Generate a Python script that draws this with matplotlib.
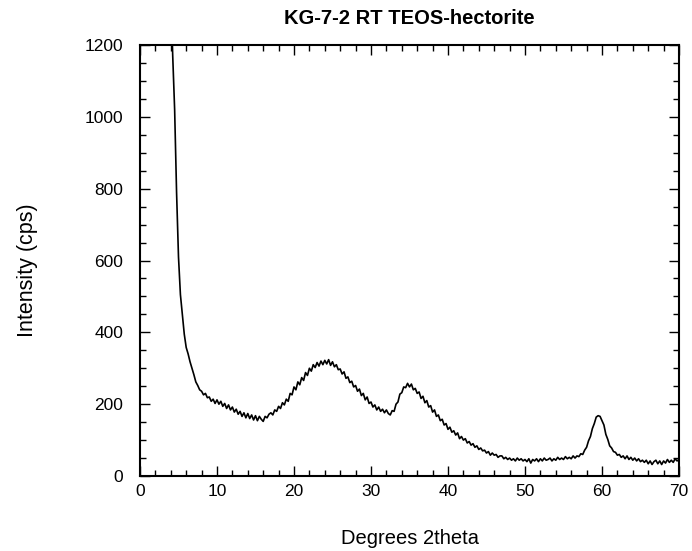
import matplotlib
matplotlib.use("Agg")
import matplotlib.pyplot as plt
import numpy as np
from matplotlib.ticker import MultipleLocator

plt.rcParams['font.family'] = ['Liberation Sans', 'DejaVu Sans']

title = "KG-7-2 RT TEOS-hectorite"
x_label = "Degrees 2theta"
y_label = "Intensity (cps)"

# scan starts at 3.0 deg, 0.25 deg step; one row per degree
start_deg = 3.0
step_deg = 0.25
intensity = [
    2000, 1850, 1700, 1500,   # 3
    1350, 1170, 1020, 790,    # 4
    610, 505, 450, 395,       # 5
    358, 340, 318, 300,       # 6
    282, 262, 252, 240,       # 7
    236, 226, 230, 218,       # 8
    220, 208, 214, 202,       # 9
    212, 200, 208, 194,       # 10
    202, 188, 198, 184,       # 11
    192, 178, 186, 172,       # 12
    180, 166, 176, 162,       # 13
    174, 160, 170, 156,       # 14
    168, 154, 166, 158,       # 15
    152, 166, 162, 172,       # 16
    176, 170, 184, 180,       # 17
    194, 188, 204, 198,       # 18
    214, 208, 230, 226,       # 19
    248, 240, 262, 254,       # 20
    274, 266, 288, 280,       # 21
    300, 292, 310, 302,       # 22
    316, 306, 320, 310,       # 23
    322, 312, 324, 308,       # 24
    318, 304, 310, 296,       # 25
    298, 284, 290, 272,       # 26
    276, 260, 264, 248,       # 27
    252, 236, 242, 224,       # 28
    230, 212, 220, 202,       # 29
    206, 192, 198, 184,       # 30
    192, 180, 186, 176,       # 31
    184, 174, 170, 182,       # 32
    180, 200, 206, 228,       # 33
    232, 248, 246, 258,       # 34
    248, 256, 240, 244,       # 35
    230, 234, 216, 222,       # 36
    204, 210, 192, 196,       # 37
    178, 184, 166, 170,       # 38
    154, 158, 142, 146,       # 39
    130, 136, 122, 126,       # 40
    114, 120, 104, 110,       # 41
    100, 104, 92, 96,         # 42
    86, 90, 80, 84,           # 43
    74, 78, 70, 72,           # 44
    64, 68, 58, 64,           # 45
    58, 60, 52, 56,           # 46
    56, 48, 52, 46,           # 47
    50, 44, 48, 42,           # 48
    50, 44, 48, 42,           # 49
    46, 40, 48, 36,           # 50
    46, 42, 48, 40,           # 51
    48, 42, 50, 44,           # 52
    46, 50, 42, 48,           # 53
    44, 52, 46, 50,           # 54
    46, 54, 48, 52,           # 55
    48, 56, 50, 56,           # 56
    54, 62, 60, 72,           # 57
    80, 98, 110, 132,         # 58
    146, 164, 168, 166,       # 59
    154, 142, 116, 102,       # 60
    84, 78, 68, 66,           # 61
    58, 60, 52, 56,           # 62
    48, 56, 46, 52,           # 63
    44, 50, 42, 48,           # 64
    40, 44, 38, 44,           # 65
    34, 42, 32, 40,           # 66
    44, 34, 42, 32,           # 67
    42, 36, 46, 38,           # 68
    44, 38, 48, 42,           # 69
    46,                       # 70
]
two_theta = start_deg + step_deg * np.arange(len(intensity))

fig = plt.figure(figsize=(6.92, 5.51), dpi=100)
ax = fig.add_axes([0.2023, 0.1361, 0.7789, 0.7822])

ax.plot(two_theta, intensity, color='black', linewidth=1.2)

ax.set_xlim(0, 70)
ax.set_ylim(0, 1200)
ax.xaxis.set_major_locator(MultipleLocator(10))
ax.xaxis.set_minor_locator(MultipleLocator(2))
ax.yaxis.set_major_locator(MultipleLocator(200))
ax.yaxis.set_minor_locator(MultipleLocator(50))
ax.tick_params(which='both', direction='in', top=True, right=True,
               labelsize=12.5, width=1.0)
ax.tick_params(axis='x', pad=6)
ax.tick_params(axis='y', pad=12)
ax.tick_params(which='major', length=7)
ax.tick_params(which='minor', length=4)
for s in ax.spines.values():
    s.set_linewidth(1.5)

ax.set_title(title, fontsize=14.5, fontweight='bold', pad=15)
ax.set_xlabel(x_label, fontsize=14.5, va='top')
ax.xaxis.set_label_coords(0.501, -0.123)
ax.set_ylabel(y_label, fontsize=15.5, va='center')
ax.yaxis.set_label_coords(-0.2096, 0.478)

fig.savefig("out.png", dpi=100)
